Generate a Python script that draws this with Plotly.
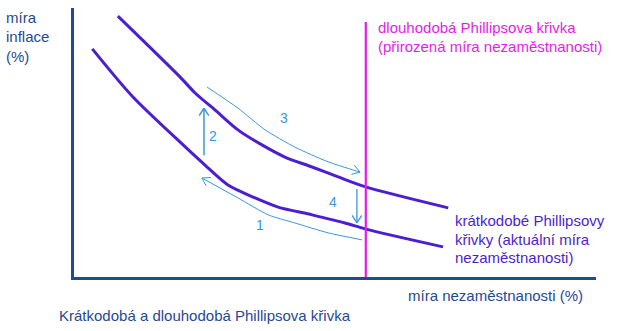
import math
import plotly.graph_objects as go

# ---- data (unemployment x, inflation y, arbitrary units 0-10) ----
upper_x = [0.84, 2.03, 2.32, 2.70, 3.14, 3.60, 4.04, 4.56, 5.06, 5.59, 7.17]
upper_y = [9.70, 7.44, 6.84, 6.21, 5.47, 4.91, 4.46, 4.09, 3.72, 3.35, 2.57]
lower_x = [0.35, 1.13, 2.09, 2.51, 2.95, 3.47, 3.91, 4.56, 5.19, 5.59, 7.07]
lower_y = [8.48, 6.69, 4.91, 4.16, 3.42, 2.94, 2.60, 2.31, 2.01, 1.78, 1.12]
natural_rate_x = 5.59
natural_rate_top = 9.48

arrow1_x = [5.52, 4.87, 4.23, 3.72, 3.14, 2.45]
arrow1_y = [1.38, 1.64, 2.01, 2.31, 2.94, 3.68]
arrow2_x = [2.49, 2.49]
arrow2_y = [4.53, 6.28]
arrow3_x = [2.55, 3.14, 3.66, 4.23, 4.87, 5.48]
arrow3_y = [7.06, 6.28, 5.47, 4.83, 4.28, 3.90]
arrow4_x = [5.42, 5.42]
arrow4_y = [3.27, 2.01]
arrow_labels = ["1", "2", "3", "4"]
label_x = [3.56, 2.66, 4.02, 4.96]
label_y = [1.86, 5.17, 5.84, 2.75]

# ---- layout geometry ----
W, H = 640, 331
ML, MR, MT, MB = 74, 44, 8, 54
XR, YR = (0, 10), (0, 10)
PW, PH = W - ML - MR, H - MT - MB
sx, sy = PW / (XR[1] - XR[0]), PH / (YR[1] - YR[0])

NAVY = "#1f4a94"
PURPLE = "#4b1fd0"
MAGENTA = "#e41ee4"
LBLUE = "#3a96dc"
FONT = "Liberation Sans"


def chevron(xs, ys, length=9, ang=32):
    """Open arrowhead at the end of a path, computed in pixel space."""
    ex, ey = xs[-1] * sx, ys[-1] * sy
    px, py = xs[-2] * sx, ys[-2] * sy
    dx, dy = ex - px, ey - py
    n = math.hypot(dx, dy)
    dx, dy = dx / n, dy / n
    hx, hy = [], []
    for s in (1, -1):
        a = math.radians(ang) * s
        rx = dx * math.cos(a) - dy * math.sin(a)
        ry = dx * math.sin(a) + dy * math.cos(a)
        hx += [(ex - length * rx) / sx, xs[-1], None]
        hy += [(ey - length * ry) / sy, ys[-1], None]
    return hx, hy


fig = go.Figure()

for xs, ys in [(upper_x, upper_y), (lower_x, lower_y)]:
    fig.add_trace(go.Scatter(x=xs, y=ys, mode="lines",
                             line=dict(color=PURPLE, width=3, shape="spline", smoothing=0.8),
                             hoverinfo="skip", showlegend=False))

fig.add_trace(go.Scatter(x=[natural_rate_x, natural_rate_x], y=[0, natural_rate_top],
                         mode="lines", line=dict(color=MAGENTA, width=2.2),
                         hoverinfo="skip", showlegend=False))

for xs, ys, w in [(arrow1_x, arrow1_y, 1), (arrow2_x, arrow2_y, 1.5),
                  (arrow3_x, arrow3_y, 1), (arrow4_x, arrow4_y, 1.3)]:
    fig.add_trace(go.Scatter(x=xs, y=ys, mode="lines",
                             line=dict(color=LBLUE, width=w, shape="spline", smoothing=0.6),
                             hoverinfo="skip", showlegend=False))
    hx, hy = chevron(xs, ys)
    fig.add_trace(go.Scatter(x=hx, y=hy, mode="lines",
                             line=dict(color=LBLUE, width=w),
                             hoverinfo="skip", showlegend=False))

fig.add_trace(go.Scatter(x=label_x, y=label_y, mode="text", text=arrow_labels,
                         textfont=dict(family=FONT, size=14, color=LBLUE),
                         hoverinfo="skip", showlegend=False))


def px_ann(text, px, py, color, size=15):
    fig.add_annotation(text=text, xref="paper", yref="paper",
                       x=(px - ML) / PW, y=(H - MB - py) / PH,
                       xanchor="left", yanchor="middle", showarrow=False,
                       font=dict(family=FONT, size=size, color=color))


for t, py in [("míra", 17), ("inflace", 36), ("(%)", 56)]:
    px_ann(t, 4, py, NAVY)
px_ann("dlouhodobá Phillipsova křivka", 376, 27, MAGENTA)
px_ann("(přirozená míra nezaměstnanosti)", 376, 46, MAGENTA)
px_ann("krátkodobé Phillipsovy", 453, 220, PURPLE)
px_ann("křivky (aktuální míra", 453, 239, PURPLE)
px_ann("nezaměstnanosti)", 453, 257, PURPLE)
px_ann("míra nezaměstnanosti (%)", 406, 295, NAVY)
px_ann("Krátkodobá a dlouhodobá Phillipsova křivka", 57, 315, NAVY)

axis = dict(showgrid=False, zeroline=False, showticklabels=False, ticks="",
            showline=True, linecolor=NAVY, linewidth=2.5, fixedrange=True)
fig.update_layout(
    width=W, height=H, margin=dict(l=ML, r=MR, t=MT, b=MB),
    paper_bgcolor="white", plot_bgcolor="white",
    xaxis=dict(range=list(XR), **axis),
    yaxis=dict(range=list(YR), **axis),
)
fig.write_html("out.html")
